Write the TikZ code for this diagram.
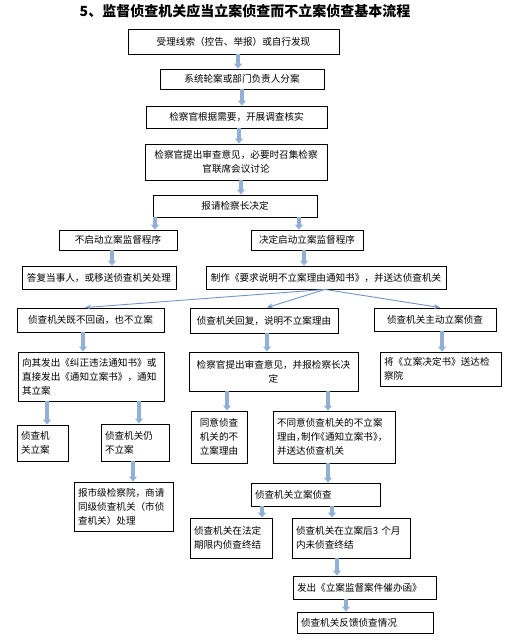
\documentclass[tikz,border=0pt]{standalone}
\usepackage{fontspec}
\setmainfont{Noto Sans CJK SC}
\newfontfamily\halffont[RawFeature=+halt]{Noto Sans CJK SC}
\usepackage{tikz}
\usetikzlibrary{arrows.meta,positioning,calc}
\usepackage{xcolor}
\definecolor{arrowBlue}{RGB}{146,176,214}
\definecolor{lineBlue}{RGB}{112,150,200}
\newcommand\boxfont{\fontsize{9.6}{14}\selectfont}
\newcommand\titlefont{\fontsize{14}{16}\selectfont\bfseries}
\tikzset{
  flow/.style={-{Triangle[width=8pt,length=5pt]}, line width=4pt, draw=arrowBlue},
  branch/.style={-{Stealth[length=6pt,width=5pt]}, line width=.9pt, draw=lineBlue},
  proc/.style={draw=black, line width=.9pt, fill=white, align=center,
               inner xsep=4pt, inner ysep=2pt, font=\boxfont}
}
\begin{document}
\begin{tikzpicture}[x=1pt, y=-1pt]
  \useasboundingbox (0,0) rectangle (514,640);
  \node[font=\titlefont] (title) at (245,11) {5、监督侦查机关应当立案侦查而不立案侦查基本流程};
  % main column
  \node[proc, minimum width=211pt, minimum height=25pt] (clue) at (233.5,41.5) {受理线索（控告、举报）或自行发现};
  \node[proc, minimum width=164pt, minimum height=20pt] (assign) at (242,79) {系统轮案或部门负责人分案};
  \node[proc, minimum width=181pt, minimum height=22pt] (verify) at (236.5,117) {检察官根据需要，开展调查核实};
  \node[proc, text width=174pt, minimum height=36pt] (review) at (236,162) {检察官提出审查意见，必要时召集检察\\官联席会议讨论};
  \node[proc, minimum width=164pt, minimum height=22pt] (chief) at (235,206) {报请检察长决定};
  \node[proc, minimum width=118pt, minimum height=20pt] (nostart) at (118,240) {不启动立案监督程序};
  \node[proc, minimum width=112pt, minimum height=20pt] (start) at (307,240) {决定启动立案监督程序};
  \node[proc, minimum width=154pt, minimum height=23pt] (reply) at (99,277.5) {答复当事人，或移送侦查机关处理};
  \node[proc, minimum width=240pt, minimum height=23pt, inner xsep=2pt] (notice) at (326,277.5) {制作《要求说明不立案理由通知书》，并送达侦查机关};
  % three branches
  \node[proc, minimum width=147pt, minimum height=24pt] (silent) at (90.5,320) {侦查机关既不回函，也不立案};
  \node[proc, minimum width=148pt, minimum height=25pt] (explain) at (264,320.5) {侦查机关回复，说明不立案理由};
  \node[proc, minimum width=122pt, minimum height=23pt] (selfopen) at (435,319.5) {侦查机关主动立案侦查};
  \node[proc, text width=138pt, minimum height=49pt, align=left] (correct) at (91,376.5) {向其发出《纠正违法通知书》或\\直接发出《通知立案书》，通知\\其立案};
  \node[proc, text width=161pt, minimum height=39pt] (opinion) at (273.5,371.5) {检察官提出审查意见，并报检察长决\\定};
  \node[proc, text width=113pt, minimum height=34pt, align=left] (deliver) at (440.5,369) {将《立案决定书》送达检\\察院};
  \node[proc, text width=43pt, minimum height=36pt, align=left] (opened) at (42.5,443) {侦查机\\关立案};
  \node[proc, text width=60pt, minimum height=37pt, align=left] (refuse) at (135,442.5) {侦查机关仍\\不立案};
  \node[proc, text width=48pt, minimum height=52pt] (agree) at (219,437) {同意侦查\\机关的不\\立案理由};
  \node[proc, text width=114pt, minimum height=52pt, align=left] (disagree) at (334,437) {不同意侦查机关的不立案\\{\halffont 理由，制作《通知立案书》，}\\并送达侦查机关};
  \node[proc, text width=91pt, minimum height=49pt, align=left] (city) at (123.5,506.5) {报市级检察院，商请\\同级侦查机关（市侦\\查机关）处理};
  \node[proc, text width=121pt, minimum height=23pt, align=left] (investigate) at (315.5,494.5) {侦查机关立案侦查};
  \node[proc, text width=74pt, minimum height=40pt, align=left] (intime) at (231,538) {侦查机关在法定\\期限内侦查终结};
  \node[proc, text width=110pt, minimum height=40pt, align=left] (overdue) at (351,538) {侦查机关在立案后3 个月\\内未侦查终结};
  \node[proc, text width=135pt, minimum height=23pt, align=left] (urge) at (364.5,587.5) {发出《立案监督案件催办函》};
  \node[proc, text width=128pt, minimum height=21pt, align=left] (feedback) at (365,622.5) {侦查机关反馈侦查情况};
  % block arrows
  \draw[flow] (clue.south -| 238,0) -- (assign.north -| 238,0);
  \draw[flow] (assign.south -| 242,0) -- (verify.north -| 242,0);
  \draw[flow] (verify.south -| 239,0) -- (review.north -| 239,0);
  \draw[flow] (review.south -| 241,0) -- (chief.north -| 241,0);
  \draw[flow] (chief.south -| 155,0) -- (nostart.north -| 155,0);
  \draw[flow] (chief.south -| 299,0) -- (start.north -| 299,0);
  \draw[flow] (nostart.south -| 112,0) -- (reply.north -| 112,0);
  \draw[flow] (start.south -| 304,0) -- (notice.north -| 304,0);
  \draw[flow] (silent.south -| 83,0) -- (correct.north -| 83,0);
  \draw[flow] (explain.south -| 267,0) -- (opinion.north -| 267,0);
  \draw[flow] (selfopen.south -| 442,0) -- (deliver.north -| 442,0);
  \draw[flow] (correct.south -| 47,0) -- (opened.north -| 47,0);
  \draw[flow] (correct.south -| 139,0) -- (refuse.north -| 139,0);
  \draw[flow] (opinion.south -| 227,0) -- (agree.north -| 227,0);
  \draw[flow] (opinion.south -| 328,0) -- (disagree.north -| 328,0);
  \draw[flow] (refuse.south -| 133,0) -- (city.north -| 133,0);
  \draw[flow] (disagree.south -| 328,0) -- (investigate.north -| 328,0);
  \draw[flow] (investigate.south -| 262,0) -- (intime.north -| 262,0);
  \draw[flow] (investigate.south -| 332,0) -- (overdue.north -| 332,0);
  \draw[flow] (overdue.south -| 337,0) -- (urge.north -| 337,0);
  \draw[flow] (urge.south -| 346,0) -- (feedback.north -| 346,0);
  % fan out from the notice
  \coordinate (fan) at (notice.south -| 325,0);
  \draw[branch] (fan) -- (silent.north -| 85,0);
  \draw[branch] (fan) -- (explain.north -| 267,0);
  \draw[branch] (fan) -- (selfopen.north -| 440,0);
\end{tikzpicture}
\end{document}
